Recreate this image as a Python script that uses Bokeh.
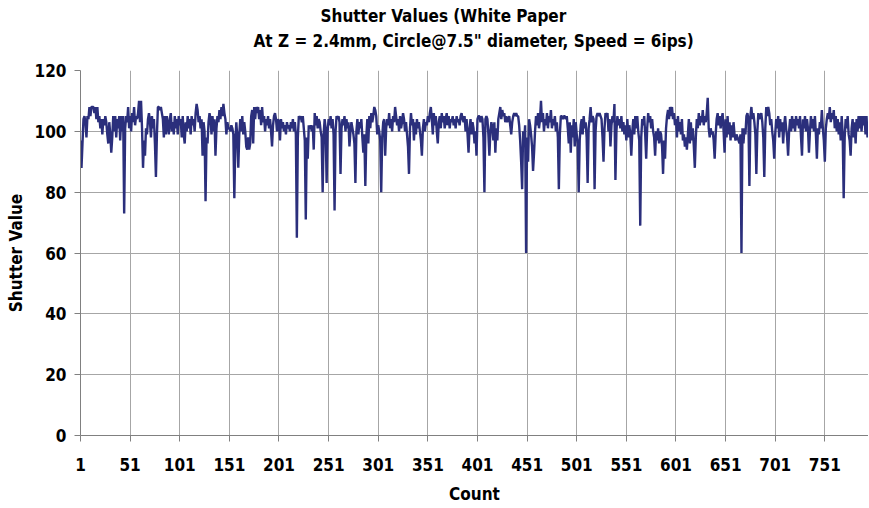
from bokeh.plotting import figure
from bokeh.models import Range1d, FixedTicker, ColumnDataSource, Title
from bokeh.embed import file_html
from bokeh.resources import INLINE

title_line1 = "Shutter Values (White Paper"
title_line2 = "At Z = 2.4mm, Circle@7.5\" diameter, Speed = 6ips)"
x_label = "Count"
y_label = "Shutter Value"
x_ticks = [1, 51, 101, 151, 201, 251, 301, 351, 401, 451, 501, 551, 601, 651, 701, 751]
y_ticks = [0, 20, 40, 60, 80, 100, 120]

shutter_001_050 = [97, 88, 96, 104, 105, 103, 98, 105, 104, 108,
                   105, 108, 108, 108, 106, 108, 104, 108, 103, 105,
                   101, 104, 99, 104, 102, 105, 103, 99, 96, 103,
                   99, 93, 98, 105, 100, 105, 98, 104, 101, 105,
                   97, 105, 100, 105, 73, 101, 105, 103, 108, 101]
shutter_051_100 = [105, 100, 106, 103, 108, 102, 105, 104, 106, 110,
                   103, 110, 101, 88, 97, 92, 101, 99, 104, 106,
                   103, 98, 105, 101, 104, 96, 85, 99, 108, 108,
                   107, 108, 106, 104, 98, 105, 99, 105, 102, 99,
                   104, 106, 100, 103, 99, 105, 101, 104, 99, 105]
shutter_101_150 = [102, 104, 98, 105, 99, 96, 103, 100, 105, 101,
                   104, 99, 105, 102, 104, 100, 106, 109, 107, 103,
                   105, 101, 104, 92, 103, 100, 77, 98, 96, 103,
                   106, 104, 99, 105, 100, 104, 92, 101, 105, 103,
                   107, 104, 108, 105, 109, 106, 104, 99, 103, 101]
shutter_151_200 = [101, 100, 102, 101, 99, 78, 96, 103, 98, 88,
                   99, 104, 100, 105, 99, 103, 100, 95, 94, 98,
                   94, 96, 105, 107, 96, 108, 104, 108, 106, 108,
                   104, 107, 102, 108, 103, 105, 100, 104, 102, 105,
                   101, 104, 100, 95, 102, 105, 106, 104, 100, 104]
shutter_201_250 = [103, 97, 104, 101, 103, 100, 102, 99, 103, 101,
                   102, 100, 103, 101, 104, 100, 103, 99, 65, 98,
                   105, 104, 105, 103, 105, 101, 97, 71, 98, 91,
                   102, 101, 102, 100, 102, 94, 106, 102, 105, 101,
                   104, 103, 100, 98, 80, 99, 104, 101, 83, 100]
shutter_251_300 = [104, 102, 105, 101, 104, 99, 74, 100, 105, 104,
                   105, 103, 86, 101, 104, 102, 105, 100, 104, 101,
                   103, 95, 100, 103, 101, 99, 96, 83, 100, 104,
                   99, 103, 101, 104, 98, 93, 99, 82, 98, 104,
                   96, 105, 101, 106, 103, 105, 108, 107, 105, 99]
shutter_301_350 = [102, 100, 97, 80, 98, 103, 104, 92, 101, 104,
                   102, 106, 101, 104, 100, 105, 103, 108, 105, 102,
                   104, 100, 105, 101, 103, 106, 104, 100, 103, 99,
                   95, 86, 101, 106, 102, 104, 97, 103, 99, 104,
                   101, 103, 100, 97, 92, 101, 104, 100, 103, 102]
shutter_351_400 = [105, 103, 106, 108, 104, 99, 106, 102, 105, 100,
                   96, 103, 105, 101, 106, 103, 105, 101, 104, 106,
                   102, 105, 101, 104, 103, 105, 102, 104, 101, 105,
                   103, 104, 102, 105, 106, 104, 103, 105, 100, 104,
                   99, 93, 101, 104, 99, 103, 101, 96, 100, 92]
shutter_401_450 = [104, 105, 105, 103, 105, 104, 98, 80, 104, 105,
                   104, 99, 92, 100, 103, 101, 97, 103, 93, 101,
                   97, 104, 106, 108, 104, 107, 105, 106, 103, 105,
                   103, 104, 105, 102, 99, 103, 105, 106, 105, 106,
                   105, 105, 102, 97, 90, 81, 100, 96, 102, 60]
shutter_451_500 = [98, 90, 104, 102, 99, 95, 87, 93, 100, 105,
                   102, 106, 101, 104, 110, 103, 106, 100, 104, 102,
                   106, 101, 105, 103, 107, 101, 104, 102, 105, 100,
                   103, 98, 81, 99, 105, 105, 104, 105, 105, 104,
                   105, 101, 96, 103, 93, 102, 98, 104, 95, 103]
shutter_501_550 = [99, 96, 80, 97, 102, 104, 99, 105, 101, 103,
                   98, 83, 101, 104, 108, 103, 105, 104, 81, 100,
                   105, 106, 105, 106, 105, 104, 98, 90, 101, 106,
                   105, 106, 100, 104, 95, 102, 105, 103, 109, 84,
                   100, 105, 102, 104, 101, 105, 100, 103, 99, 102]
shutter_551_600 = [97, 104, 98, 102, 99, 92, 100, 104, 99, 105,
                   101, 105, 100, 97, 69, 98, 104, 102, 105, 99,
                   91, 101, 106, 103, 105, 101, 104, 100, 98, 92,
                   100, 97, 101, 96, 100, 99, 95, 86, 97, 91,
                   101, 105, 107, 104, 108, 105, 108, 104, 106, 102]
shutter_601_650 = [104, 98, 105, 100, 103, 99, 104, 97, 99, 95,
                   98, 94, 99, 104, 96, 103, 97, 101, 95, 88,
                   98, 104, 101, 106, 102, 105, 103, 107, 102, 105,
                   103, 106, 111, 101, 98, 101, 99, 100, 97, 91,
                   99, 104, 106, 102, 105, 101, 104, 106, 100, 93]
shutter_651_700 = [104, 98, 105, 99, 103, 97, 102, 98, 103, 99,
                   97, 99, 98, 97, 96, 99, 60, 101, 96, 101,
                   99, 105, 106, 104, 82, 105, 108, 104, 106, 103,
                   99, 86, 100, 106, 104, 105, 106, 103, 98, 85,
                   101, 108, 105, 108, 106, 102, 104, 100, 97, 91]
shutter_701_750 = [99, 104, 101, 105, 98, 104, 100, 103, 96, 102,
                   105, 101, 98, 92, 100, 104, 100, 105, 101, 104,
                   100, 105, 102, 104, 101, 105, 98, 92, 104, 101,
                   105, 100, 104, 101, 93, 100, 105, 101, 104, 100,
                   105, 99, 91, 101, 99, 103, 101, 107, 101, 97]
shutter_751_794 = [90, 101, 104, 106, 104, 108, 103, 106, 104, 107,
                   101, 105, 100, 104, 99, 103, 97, 105, 99, 78,
                   98, 104, 101, 105, 99, 97, 92, 101, 104, 98,
                   103, 96, 104, 100, 105, 101, 105, 100, 105, 102,
                   105, 99, 105, 98]

blocks = [shutter_001_050, shutter_051_100, shutter_101_150, shutter_151_200,
          shutter_201_250, shutter_251_300, shutter_301_350, shutter_351_400,
          shutter_401_450, shutter_451_500, shutter_501_550, shutter_551_600,
          shutter_601_650, shutter_651_700, shutter_701_750, shutter_751_794]
values = [v for b in blocks for v in b]
counts = list(range(1, len(values) + 1))

FONT = "'Liberation Sans Narrow', 'DejaVu Sans Condensed', 'Arial Narrow', sans-serif"
GRID = "#a6a6a6"
LINE = "#2b2f7c"

p = figure(width=868, height=506, output_backend="svg", toolbar_location=None,
           x_range=Range1d(1, len(values) + 1), y_range=Range1d(0, 120),
           min_border_left=80, min_border_right=0, min_border_top=70,
           min_border_bottom=60)

# Two title lines (added bottom-most first); offsets from the frame's left edge.
# The second line carries an empty trailing line to leave a gap above the plot.
for txt, stand, off in ((title_line2 + "\n ", 0, 173), (title_line1, 6, 240)):
    t = Title(text=txt, align="left", text_font=FONT, text_font_size="17px",
              text_font_style="bold", text_color="black", standoff=stand,
              offset=off)
    p.add_layout(t, "above")

src = ColumnDataSource(data=dict(count=counts, value=values))
p.line("count", "value", source=src, line_color=LINE, line_width=2.4)

p.xaxis.ticker = FixedTicker(ticks=x_ticks)
p.yaxis.ticker = FixedTicker(ticks=y_ticks)
p.xaxis.axis_label = x_label
p.yaxis.axis_label = y_label

for ax in (p.xaxis, p.yaxis):
    ax.major_label_text_font = FONT
    ax.major_label_text_font_size = "17px"
    ax.major_label_text_font_style = "bold"
    ax.major_label_text_color = "black"
    ax.axis_label_text_font = FONT
    ax.axis_label_text_font_size = "17px"
    ax.axis_label_text_font_style = "bold"
    ax.axis_label_text_color = "black"
    ax.axis_line_color = "#808080"
    ax.major_tick_line_color = "#808080"
    ax.major_tick_out = 6
    ax.major_tick_in = 0
    ax.minor_tick_line_color = None

p.xaxis.major_label_standoff = 16
p.xaxis.axis_label_standoff = 10
p.yaxis.major_label_standoff = 8
p.yaxis.axis_label_standoff = 6

p.xgrid.grid_line_color = GRID
p.ygrid.grid_line_color = GRID
p.xgrid.grid_line_width = 1
p.ygrid.grid_line_width = 1
p.outline_line_color = None
p.background_fill_color = "white"

open("out.html", "w").write(file_html(p, INLINE))
